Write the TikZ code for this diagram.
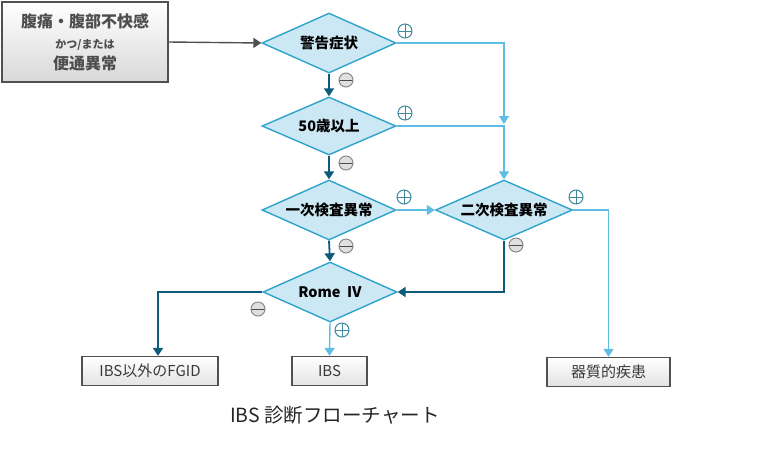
\documentclass[tikz,border=0pt]{standalone}
\usepackage{fontspec}
\setmainfont{Noto Sans CJK JP}
\usetikzlibrary{shapes.geometric,arrows.meta,calc}
\definecolor{dfill}{HTML}{CDE8F5}
\definecolor{dline}{HTML}{2EA3CC}
\definecolor{darkarr}{HTML}{0E5A7A}
\definecolor{lightarr}{HTML}{5DBDE2}
\definecolor{boxline}{HTML}{505050}
\definecolor{boxtext}{HTML}{3A3A3A}
\definecolor{plusc}{HTML}{3F8A9A}
\definecolor{minusc}{HTML}{8A8A8A}
\begin{document}
\begin{tikzpicture}[x=1pt,y=-1pt,
  dia/.style={diamond,aspect=2.3,draw=dline,line width=1.4pt,fill=dfill,inner sep=0pt,
    minimum width=134pt,minimum height=60pt,font=\fontsize{14.5}{16}\selectfont\bfseries,text=black},
  rbox/.style={draw=boxline,line width=1.3pt,top color=white,bottom color=gray!22,
    inner sep=0pt,text=boxtext,font=\fontsize{15}{17}\selectfont},
  darr/.style={draw=darkarr,line width=1.8pt,-{Triangle[length=8pt,width=10pt]}},
  larr/.style={draw=lightarr,line width=1.4pt,-{Triangle[length=8pt,width=10pt]}},
  plusm/.style={circle,draw=plusc,line width=1pt,fill=white,minimum size=14pt,inner sep=0pt,
    path picture={\draw[plusc,line width=1pt] (path picture bounding box.north) -- (path picture bounding box.south)
      (path picture bounding box.west) -- (path picture bounding box.east);}},
  minusm/.style={circle,draw=minusc,line width=1pt,fill=gray!25,minimum size=14pt,inner sep=0pt,
    path picture={\draw[gray!60!black,line width=1pt] (path picture bounding box.west) -- (path picture bounding box.east);}}
]
\useasboundingbox (0,0) rectangle (770,459);

% start box
\node[rbox,minimum width=166pt,minimum height=80pt,line width=1.6pt,top color=white,bottom color=gray!30,
  font=\fontsize{16}{21}\selectfont\bfseries,text=boxtext!90,align=center]
  (start) at (85,42) {腹痛・腹部不快感\\{\fontsize{11}{13}\selectfont かつ/または}\\便通異常};

% diamonds
\node[dia] (d1) at (329,43) {警告症状};
\node[dia,minimum height=58pt] (d2) at (329,126) {50歳以上};
\node[dia] (d3) at (329,210) {一次検査異常};
\node[dia,minimum width=137pt] (d4) at (504,210) {二次検査異常};
\node[dia] (d5) at (330,292) {Rome\ \ Ⅳ};

% result boxes
\node[rbox,minimum width=136pt,minimum height=29pt] (fgid) at (150,371) {IBS以外のFGID};
\node[rbox,minimum width=75pt,minimum height=29pt] (ibs) at (329.5,371) {IBS};
\node[rbox,minimum width=123pt,minimum height=29pt] (org) at (608.5,372) {器質的疾患};

% caption
\node[font=\fontsize{19.5}{21}\selectfont,text=black!85] (cap) at (335,415) {IBS 診断フローチャート};

% connectors
\draw[draw=boxline,line width=1.4pt,-{Triangle[length=8pt,width=10pt]},color=boxline] (start.east) -- (d1.west);
\draw[darr] (d1.south) -- (d2.north);
\draw[darr] (d2.south) -- (d3.north);
\draw[darr] (d3.south) -- (d5.north);
\coordinate (m1) at (504,124);
\draw[larr] (d1.east) -| (m1);
\draw[larr] (d2.east) -| (d4.north);
\draw[larr] (d3.east) -- (d4.west);
\draw[larr] (d4.east) -| (org.north);
\draw[darr] (d4.south) |- (d5.east);
\draw[darr] (d5.west) -| ([xshift=8pt]fgid.north);
\draw[larr] (d5.south) -- (ibs.north);

% plus / minus marks
\node[plusm] (p1) at (405,31) {};
\node[minusm] (n1) at (346,80) {};
\node[plusm] (p2) at (405,113) {};
\node[minusm] (n2) at (346,163) {};
\node[plusm] (p3) at (404,197) {};
\node[minusm] (n3) at (346,246) {};
\node[plusm] (p4) at (576,197) {};
\node[minusm] (n4) at (516,245) {};
\node[minusm] (n5) at (258,309) {};
\node[plusm] (p5) at (342,330) {};
\end{tikzpicture}
\end{document}
